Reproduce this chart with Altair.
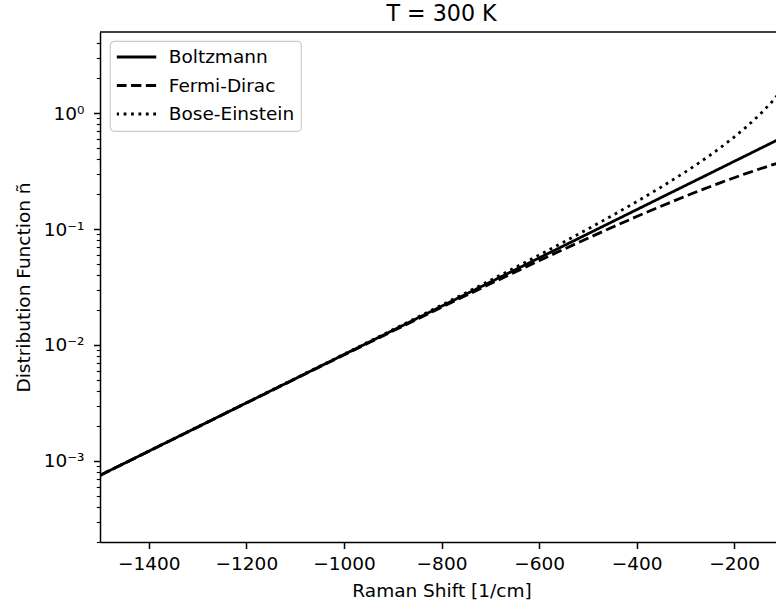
import altair as alt
import pandas as pd

# Raman shift [1/cm]
shift = [-1500, -1450, -1400, -1350, -1300, -1250, -1200, -1150, -1100, -1050,
         -1000, -950, -900, -850, -800, -750, -700, -650, -600, -550,
         -500, -450, -400, -350, -300, -275, -250, -225, -200, -175,
         -150, -125, -100]

boltzmann = [7.512e-4, 9.548e-4, 1.2135e-3, 1.5424e-3, 1.9603e-3, 2.4915e-3, 3.1667e-3,
             4.0248e-3, 5.1155e-3, 6.5017e-3, 8.2635e-3, 0.010503, 0.013349, 0.016966,
             0.021564, 0.027407, 0.034834, 0.044274, 0.056272, 0.071521, 0.090902,
             0.11554, 0.14685, 0.18664, 0.23722, 0.26743, 0.30150, 0.33991, 0.38321,
             0.43202, 0.48706, 0.54909, 0.61905]

fermi_dirac = [7.506e-4, 9.539e-4, 1.2120e-3, 1.5400e-3, 1.9565e-3, 2.4853e-3, 3.1567e-3,
               4.0087e-3, 5.0895e-3, 6.4597e-3, 8.1958e-3, 0.010394, 0.013173, 0.016683,
               0.021109, 0.026676, 0.033661, 0.042397, 0.053274, 0.066747, 0.083328,
               0.10357, 0.12805, 0.15728, 0.19174, 0.21102, 0.23166, 0.25368, 0.27705,
               0.30168, 0.32753, 0.35446, 0.38235]

bose_einstein = [7.518e-4, 9.557e-4, 1.2150e-3, 1.5448e-3, 1.9641e-3, 2.4977e-3, 3.1768e-3,
                 4.0411e-3, 5.1418e-3, 6.5443e-3, 8.3323e-3, 0.010614, 0.013530, 0.017259,
                 0.022039, 0.028179, 0.036091, 0.046325, 0.059627, 0.077030, 0.099991,
                 0.13063, 0.17213, 0.22947, 0.31099, 0.36506, 0.43164, 0.51492, 0.62129,
                 0.76060, 0.94955, 1.21774, 1.62502]

series_names = ["Boltzmann", "Fermi-Dirac", "Bose-Einstein"]
chart_title = "T = 300 K"

x_ticks = [-1400, -1200, -1000, -800, -600, -400, -200]
y_major = [0.001, 0.01, 0.1, 1]
y_major_labels = ["10⁻³", "10⁻²", "10⁻¹", "10⁰"]
y_ticks = []
for k in range(-4, 1):
    for m in range(1, 10):
        v = float(f"{m}e{k}")
        if 2e-4 <= v <= 4:
            y_ticks.append(v)

rows = []
for name, vals in zip(series_names, [boltzmann, fermi_dirac, bose_einstein]):
    for xv, yv in zip(shift, vals):
        rows.append({"shift": xv, "n": yv, "series": name})
df = pd.DataFrame(rows)

W, H = 676, 510
FONT = "DejaVu Sans"
FS = 18.5

label_expr = " : ".join(
    f"datum.value == {v} ? '{l}'" for v, l in zip(y_major, y_major_labels)
) + " : ''"
major_test = "indexof([" + ",".join(str(v) for v in y_major) + "], datum.value) >= 0"

lines = alt.Chart(df).mark_line(clip=True, strokeWidth=2.8, color="black",
                                strokeJoin="round").encode(
    x=alt.X("shift:Q",
            scale=alt.Scale(domain=[-1500, -114.4], nice=False, zero=False),
            axis=alt.Axis(values=x_ticks, title="Raman Shift [1/cm]", format="d",
                          labelExpr="replace(datum.label, '-', '−')",
                          grid=False, domainColor="black", domainWidth=1.5,
                          tickColor="black", tickWidth=1.5, tickSize=6.5,
                          labelPadding=6, labelFont=FONT, labelFontSize=FS,
                          labelColor="black", labelFlush=False, labelOverlap=False,
                          titleFont=FONT, titleFontSize=FS, titleFontWeight="normal",
                          titleColor="black", titleX=341.5, titleY=54,
                          titleAlign="center", titleBaseline="alphabetic")),
    y=alt.Y("n:Q",
            scale=alt.Scale(type="log", domain=[2e-4, 5], nice=False),
            axis=alt.Axis(values=y_ticks, title="Distribution Function ñ",
                          labelExpr=label_expr, grid=False,
                          domainColor="black", domainWidth=1.5,
                          tickColor="black",
                          tickWidth={"condition": {"test": major_test, "value": 1.5}, "value": 1.1},
                          tickSize={"condition": {"test": major_test, "value": 6.5}, "value": 3.7},
                          labelPadding=9.5, labelFont=FONT, labelFontSize=FS,
                          labelColor="black", labelFlush=False, labelOverlap=False,
                          titleFont=FONT, titleFontSize=FS, titleFontWeight="normal",
                          titleColor="black", titleAngle=270, titleX=-71, titleY=H / 2,
                          titleAlign="center", titleBaseline="alphabetic")),
    strokeDash=alt.StrokeDash(
        "series:N",
        scale=alt.Scale(domain=series_names, range=[[1, 0], [10.3, 4.5], [2.8, 4.6]]),
        legend=alt.Legend(title=None, orient="none", legendX=10, legendY=9,
                          padding=6.75, fillColor="rgba(255,255,255,0.8)",
                          strokeColor="#cccccc", cornerRadius=4, clipHeight=18.5,
                          symbolType="stroke", symbolSize=1600, symbolStrokeWidth=2.8,
                          symbolOffset=-2,
                          symbolStrokeColor="black", labelFont=FONT, labelFontSize=FS,
                          labelColor="black", labelOffset=11, rowPadding=9.5)),
)

top_border = alt.Chart(pd.DataFrame({"a": [0]})).mark_rule(
    color="black", strokeWidth=1.5).encode(
    x=alt.value(0), x2=alt.value(W), y=alt.value(0))

title_text = alt.Chart(pd.DataFrame({"t": [chart_title]})).mark_text(
    font=FONT, fontSize=22.2, color="black", align="center", baseline="alphabetic"
).encode(x=alt.value(341.5), y=alt.value(-11), text="t:N")

chart = alt.layer(lines, top_border, title_text).properties(
    width=W, height=H,
    padding={"left": 100, "top": 32, "right": 0, "bottom": 63},
    autosize=alt.AutoSizeParams(type="none"),
    background="white",
).configure_view(stroke=None).configure_legend(strokeWidth=1.2)

chart.save("out.html", embed_options={"renderer": "svg", "actions": False})
